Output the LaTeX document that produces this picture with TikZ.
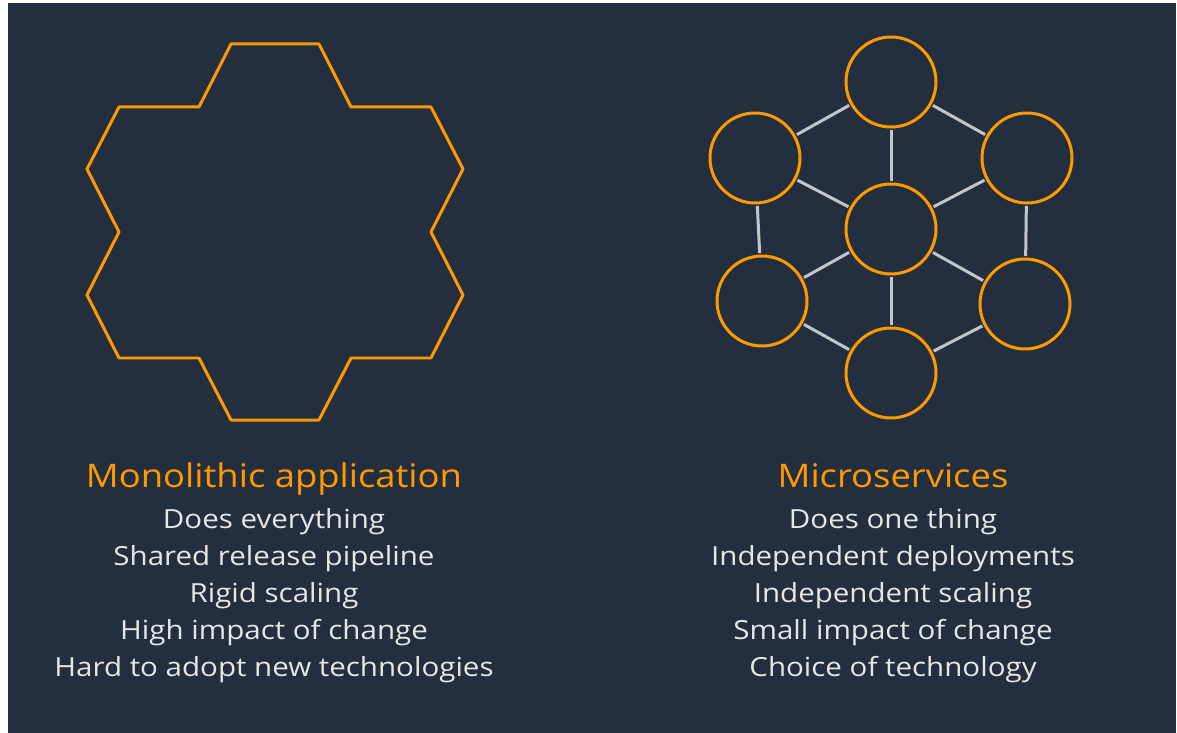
\documentclass[tikz,border=0pt]{standalone}
\usepackage{fontspec}
\setmainfont{Open Sans}[FakeStretch=1.12]
\usepackage{tikz}
\definecolor{slate}{HTML}{232F3E}
\definecolor{awsorange}{HTML}{FF9900}
\definecolor{linkgrey}{HTML}{C2C5CA}
\definecolor{textwhite}{HTML}{E6E6E6}

\begin{document}
\begin{tikzpicture}[x=0.02cm,y=-0.02cm]
		\tikzstyle{svc}=[circle, draw=awsorange, line width=0.06cm, minimum size=1.8cm, inner sep=0pt]
		\tikzstyle{link}=[draw=linkgrey, line width=0.06cm, shorten >=0.03cm, shorten <=0.03cm]
		\tikzstyle{heading}=[font=\fontsize{18.5}{22}\selectfont, text=awsorange, anchor=base, inner sep=0pt]
		\tikzstyle{item}=[font=\fontsize{15}{18}\selectfont, text=textwhite, anchor=base, inner sep=0pt]
		
		\useasboundingbox (0,0) rectangle (1177,733);
		\fill [white] (0,0) rectangle (1177,733);
		\fill [slate] (8,3) rectangle (1176,733);
		
		% monolith outline
		\draw [awsorange, line width=0.06cm, line join=round] (231,44) -- (319,44) -- (351,107) -- (431,107) -- (463,169) -- (431,232) -- (463,295) -- (431,358) -- (351,358) -- (319,420) -- (231,420) -- (199,358) -- (119,358) -- (87,295) -- (119,232) -- (87,169) -- (119,107) -- (199,107) -- cycle;
		
		% services
		\node [svc] (top) at (891,82) {};
		\node [svc] (upleft) at (755,158) {};
		\node [svc] (upright) at (1027,158) {};
		\node [svc] (hub) at (891,229) {};
		\node [svc] (lowleft) at (762,301) {};
		\node [svc] (lowright) at (1025,304) {};
		\node [svc] (bottom) at (891,373) {};
		
		\draw [link] (top) -- (upleft);
		\draw [link] (top) -- (upright);
		\draw [link] (top) -- (hub);
		\draw [link] (upleft) -- (hub);
		\draw [link] (upright) -- (hub);
		\draw [link] (upleft) -- (lowleft);
		\draw [link] (upright) -- (lowright);
		\draw [link] (hub) -- (lowleft);
		\draw [link] (hub) -- (lowright);
		\draw [link] (hub) -- (bottom);
		\draw [link] (lowleft) -- (bottom);
		\draw [link] (lowright) -- (bottom);
		
		% captions
		\node [heading] (monotitle) at (274,487) {Monolithic application};
		\node [item] (mono1) at (274,528) {Does everything};
		\node [item] (mono2) at (274,565) {Shared release pipeline};
		\node [item] (mono3) at (274,602) {Rigid scaling};
		\node [item] (mono4) at (274,639) {High impact of change};
		\node [item] (mono5) at (274,676) {Hard to adopt new technologies};
		
		\node [heading] (microtitle) at (893,487) {Microservices};
		\node [item] (micro1) at (893,528) {Does one thing};
		\node [item] (micro2) at (893,565) {Independent deployments};
		\node [item] (micro3) at (893,602) {Independent scaling};
		\node [item] (micro4) at (893,639) {Small impact of change};
		\node [item] (micro5) at (893,676) {Choice of technology};
		
\end{tikzpicture}
\end{document}
